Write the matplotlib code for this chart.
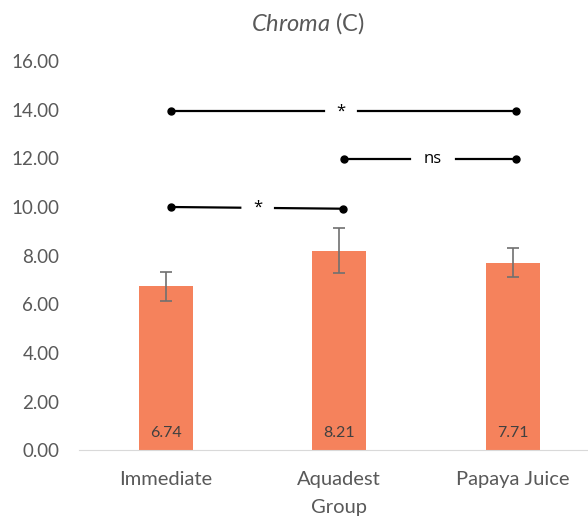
import matplotlib.pyplot as plt

plt.rcParams['font.family'] = ['Lato', 'DejaVu Sans']
plt.rcParams['mathtext.fontset'] = 'custom'
plt.rcParams['mathtext.it'] = 'Lato:italic'
plt.rcParams['mathtext.rm'] = 'Lato'

groups = ['Immediate', 'Aquadest', 'Papaya Juice']
means = [6.74, 8.21, 7.71]
errors = [0.6, 0.92, 0.6]
yticks = [0, 2, 4, 6, 8, 10, 12, 14, 16]

# significance brackets: (left group, right group, y left, y right, label, label x, gap)
brackets = [
    (0, 1, 10.0, 9.93, '*', 0.53, 0.10),
    (1, 2, 11.97, 11.97, 'ns', 1.54, 0.13),
    (0, 2, 13.93, 13.93, '*', 1.01, 0.10),
]

bar_color = '#F5825C'
text_color = '#595959'

fig = plt.figure(figsize=(5.88, 5.18), dpi=100)
ax = fig.add_axes([0.134, 0.131, 0.886, 0.751])

x = range(len(groups))
ax.bar(x, means, width=0.31, color=bar_color, zorder=2)
ax.errorbar(x, means, yerr=errors, fmt='none', ecolor='#707070', elinewidth=1.2,
            capsize=4, capthick=1.2, zorder=3)

for i, m in enumerate(means):
    ax.text(i, 0.7, f'{m:.2f}', ha='center', va='center', fontsize=11.5, color='#404040', zorder=4)

for a, b, ya, yb, lab, lx, gap in brackets:
    xa, xb = a + 0.03, b + 0.02
    frac_l = (lx - gap - xa) / (xb - xa)
    frac_r = (lx + gap - xa) / (xb - xa)
    ax.plot([xa, lx - gap], [ya, ya + (yb - ya) * frac_l], color='black', lw=1.6, zorder=3)
    ax.plot([lx + gap, xb], [ya + (yb - ya) * frac_r, yb], color='black', lw=1.6, zorder=3)
    ax.plot([xa, xb], [ya, yb], 'o', color='black', ms=5, zorder=3)
    ax.text(lx, (ya + yb) / 2, lab, ha='center', va='center', fontsize=12, color='black',
            family=['Open Sans', 'DejaVu Sans'])

ax.set_xlim(-0.5, 2.5)
ax.set_ylim(0, 16)
ax.set_yticks(yticks)
ax.set_yticklabels([f'{v:.2f}' for v in yticks])
ax.set_xticks(list(x))
ax.set_xticklabels(groups)
ax.tick_params(axis='y', length=0, labelsize=13.5, labelcolor=text_color, pad=14)
ax.tick_params(axis='x', length=0, labelsize=14.5, labelcolor=text_color, pad=15)
for s in ['top', 'right', 'left']:
    ax.spines[s].set_visible(False)
ax.spines['bottom'].set_color('#d9d9d9')
ax.set_xlabel('Group', fontsize=14.5, color=text_color, labelpad=8)

fig.text(0.524, 0.955, r'$\mathit{Chroma}$ (C)', ha='center', va='center', fontsize=17,
         color=text_color)

fig.savefig('out.png', dpi=100)
